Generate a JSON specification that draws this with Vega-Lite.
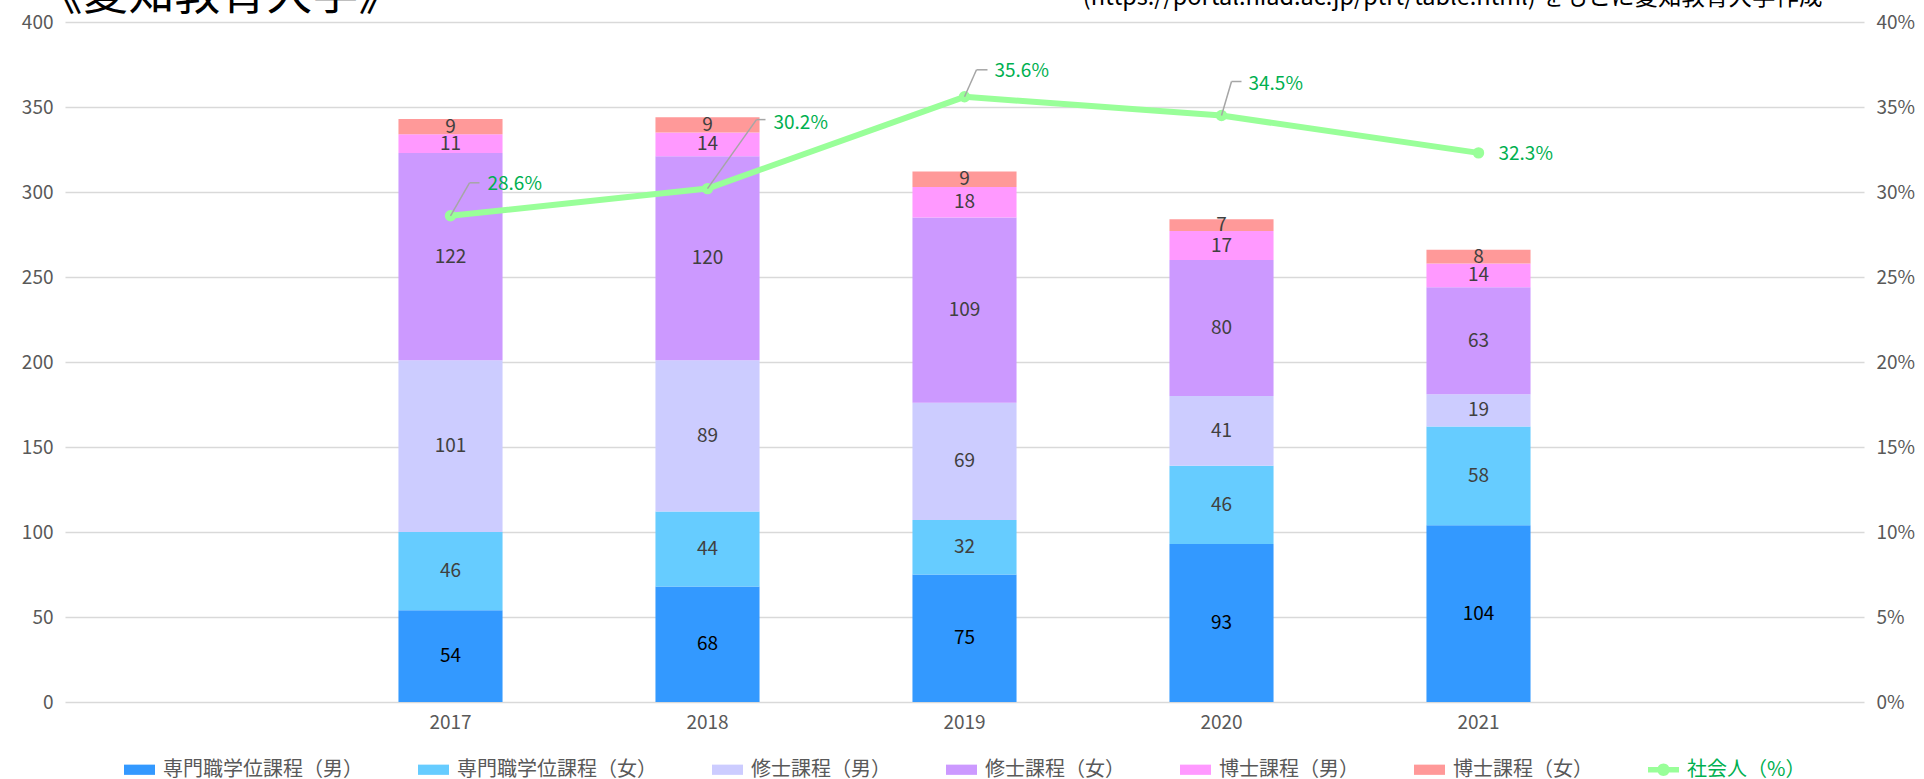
{
  "$schema": "https://vega.github.io/schema/vega-lite/v6.json",
  "autosize": {"type": "none"},
  "width": 1799,
  "height": 680,
  "padding": {"left": 65, "top": 22, "right": 60, "bottom": 77},
  "background": "#ffffff",
  "datasets": {
    "bars": [
      {"year": "2017", "series": "専門職学位課程（男）", "k": 1, "n": 54},
      {"year": "2017", "series": "専門職学位課程（女）", "k": 2, "n": 46},
      {"year": "2017", "series": "修士課程（男）", "k": 3, "n": 101},
      {"year": "2017", "series": "修士課程（女）", "k": 4, "n": 122},
      {"year": "2017", "series": "博士課程（男）", "k": 5, "n": 11},
      {"year": "2017", "series": "博士課程（女）", "k": 6, "n": 9},
      {"year": "2018", "series": "専門職学位課程（男）", "k": 1, "n": 68},
      {"year": "2018", "series": "専門職学位課程（女）", "k": 2, "n": 44},
      {"year": "2018", "series": "修士課程（男）", "k": 3, "n": 89},
      {"year": "2018", "series": "修士課程（女）", "k": 4, "n": 120},
      {"year": "2018", "series": "博士課程（男）", "k": 5, "n": 14},
      {"year": "2018", "series": "博士課程（女）", "k": 6, "n": 9},
      {"year": "2019", "series": "専門職学位課程（男）", "k": 1, "n": 75},
      {"year": "2019", "series": "専門職学位課程（女）", "k": 2, "n": 32},
      {"year": "2019", "series": "修士課程（男）", "k": 3, "n": 69},
      {"year": "2019", "series": "修士課程（女）", "k": 4, "n": 109},
      {"year": "2019", "series": "博士課程（男）", "k": 5, "n": 18},
      {"year": "2019", "series": "博士課程（女）", "k": 6, "n": 9},
      {"year": "2020", "series": "専門職学位課程（男）", "k": 1, "n": 93},
      {"year": "2020", "series": "専門職学位課程（女）", "k": 2, "n": 46},
      {"year": "2020", "series": "修士課程（男）", "k": 3, "n": 41},
      {"year": "2020", "series": "修士課程（女）", "k": 4, "n": 80},
      {"year": "2020", "series": "博士課程（男）", "k": 5, "n": 17},
      {"year": "2020", "series": "博士課程（女）", "k": 6, "n": 7},
      {"year": "2021", "series": "専門職学位課程（男）", "k": 1, "n": 104},
      {"year": "2021", "series": "専門職学位課程（女）", "k": 2, "n": 58},
      {"year": "2021", "series": "修士課程（男）", "k": 3, "n": 19},
      {"year": "2021", "series": "修士課程（女）", "k": 4, "n": 63},
      {"year": "2021", "series": "博士課程（男）", "k": 5, "n": 14},
      {"year": "2021", "series": "博士課程（女）", "k": 6, "n": 8}
    ],
    "rate": [
      {"year": "2017", "pct": 0.286},
      {"year": "2018", "pct": 0.302},
      {"year": "2019", "pct": 0.356},
      {"year": "2020", "pct": 0.345},
      {"year": "2021", "pct": 0.323}
    ]
  },
  "layer": [
    {
      "data": {"name": "bars"},
      "encoding": {
        "x": {"field": "year", "type": "nominal", "title": null,
          "scale": {"domain": ["L", "2017", "2018", "2019", "2020", "2021", "R"], "paddingInner": 0.595, "paddingOuter": 0.2975},
          "axis": {"labelExpr": "datum.value == 'L' || datum.value == 'R' ? '' : datum.value", "labelAngle": 0, "labelPadding": 11}}
      },
      "layer": [
        {
          "mark": {"type": "bar"},
          "encoding": {
            "y": {"field": "n", "type": "quantitative", "stack": "zero",
              "scale": {"domain": [0, 400], "nice": false},
              "axis": {"values": [0, 50, 100, 150, 200, 250, 300, 350, 400], "grid": true, "gridColor": "#D9D9D9", "gridWidth": 1.3, "labelPadding": 12,
                "title": "《愛知教育大学》", "titleAngle": 0, "titleAlign": "left", "titleBaseline": "alphabetic", "titleX": -29, "titleY": -14,
                "titleFontSize": 46, "titleFontWeight": "normal", "titleColor": "#000000", "titleFont": "Noto Sans CJK JP"}},
            "color": {"field": "series", "type": "nominal", "title": null,
              "scale": {
                "domain": ["専門職学位課程（男）", "専門職学位課程（女）", "修士課程（男）", "修士課程（女）", "博士課程（男）", "博士課程（女）", "社会人（%）"],
                "range": ["#3399FF", "#66CCFF", "#CCCCFF", "#CC99FF", "#FF99FF", "#FF9999", "#99FF99"]
              },
              "legend": {
                "encode": {
                  "symbols": {"update": {
                    "shape": {"signal": "datum.value === '社会人（%）' ? 'M-1,-0.17H1V0.17H-1Z M-0.4,0A0.4,0.4 0 1,1 0.4,0A0.4,0.4 0 1,1 -0.4,0Z' : 'M-1,-0.33H1V0.33H-1Z'"},
                    "fill": {"scale": "color", "field": "value"},
                    "stroke": {"value": "transparent"},
                    "strokeWidth": {"value": 0},
                    "opacity": {"value": 1}
                  }},
                  "labels": {"update": {"fill": {"signal": "datum.value === '社会人（%）' ? '#00B050' : '#595959'"}}}
                }
              }
            },
            "order": {"field": "k", "type": "quantitative"}
          }
        },
        {
          "transform": [
            {"stack": "n", "groupby": ["year"], "sort": [{"field": "k", "order": "ascending"}], "as": ["v0", "v1"]},
            {"fold": ["v0", "v1"], "as": ["edge", "pos"]},
            {"aggregate": [{"op": "mean", "field": "pos", "as": "mid"}], "groupby": ["year", "series", "n"]}
          ],
          "mark": {"type": "text", "fontSize": 19, "baseline": "middle", "align": "center"},
          "encoding": {
            "y": {"field": "mid", "type": "quantitative"},
            "text": {"field": "n", "type": "quantitative"},
            "color": {"condition": {"test": "datum.series === '専門職学位課程（男）'", "value": "#000000"}, "value": "#404040"}
          }
        }
      ]
    },
    {
      "data": {"name": "rate"},
      "encoding": {
        "x": {"field": "year", "type": "nominal", "title": null, "bandPosition": 0.5,
          "axis": {"labelExpr": "datum.value == 'L' || datum.value == 'R' ? '' : datum.value", "labelAngle": 0, "labelPadding": 11}},
        "y": {"field": "pct", "type": "quantitative",
          "scale": {"domain": [0, 0.4], "nice": false},
          "axis": {"orient": "right", "values": [0, 0.05, 0.1, 0.15, 0.2, 0.25, 0.3, 0.35, 0.4], "format": ".0%", "grid": false, "labelPadding": 12,
            "title": "(https://portal.niad.ac.jp/ptrt/table.html) をもとに愛知教育大学作成",
            "titleAngle": 0, "titleAlign": "right", "titleBaseline": "alphabetic", "titleX": -42, "titleY": -18,
            "titleFontSize": 23.5, "titleFontWeight": "normal", "titleColor": "#000000", "titleFont": "Noto Sans CJK JP"}}
      },
      "layer": [
        {
          "mark": {"type": "line", "strokeWidth": 6, "strokeCap": "round", "strokeJoin": "round"},
          "encoding": {"color": {"datum": "社会人（%）", "title": null}}
        },
        {
          "mark": {"type": "point", "filled": true, "size": 130, "color": "#99FF99", "opacity": 1}
        },
        {
          "transform": [{"filter": "datum.year == '2017'"}],
          "mark": {"type": "rule", "color": "#A6A6A6", "strokeWidth": 1.5, "x2Offset": 19, "y2Offset": -33},
          "encoding": {"x2": {"field": "year", "bandPosition": 0.5}, "y2": {"field": "pct"}}
        },
        {
          "transform": [{"filter": "datum.year == '2017'"}],
          "mark": {"type": "rule", "color": "#A6A6A6", "strokeWidth": 1.5, "xOffset": 19, "x2Offset": 29, "yOffset": -33, "y2Offset": -33},
          "encoding": {"x2": {"field": "year", "bandPosition": 0.5}, "y2": {"field": "pct"}}
        },
        {
          "transform": [{"filter": "datum.year == '2018'"}],
          "mark": {"type": "rule", "color": "#A6A6A6", "strokeWidth": 1.5, "x2Offset": 49, "y2Offset": -69},
          "encoding": {"x2": {"field": "year", "bandPosition": 0.5}, "y2": {"field": "pct"}}
        },
        {
          "transform": [{"filter": "datum.year == '2018'"}],
          "mark": {"type": "rule", "color": "#A6A6A6", "strokeWidth": 1.5, "xOffset": 49, "x2Offset": 58, "yOffset": -69, "y2Offset": -69},
          "encoding": {"x2": {"field": "year", "bandPosition": 0.5}, "y2": {"field": "pct"}}
        },
        {
          "transform": [{"filter": "datum.year == '2019'"}],
          "mark": {"type": "rule", "color": "#A6A6A6", "strokeWidth": 1.5, "x2Offset": 12, "y2Offset": -27},
          "encoding": {"x2": {"field": "year", "bandPosition": 0.5}, "y2": {"field": "pct"}}
        },
        {
          "transform": [{"filter": "datum.year == '2019'"}],
          "mark": {"type": "rule", "color": "#A6A6A6", "strokeWidth": 1.5, "xOffset": 12, "x2Offset": 23, "yOffset": -27, "y2Offset": -27},
          "encoding": {"x2": {"field": "year", "bandPosition": 0.5}, "y2": {"field": "pct"}}
        },
        {
          "transform": [{"filter": "datum.year == '2020'"}],
          "mark": {"type": "rule", "color": "#A6A6A6", "strokeWidth": 1.5, "x2Offset": 10, "y2Offset": -34},
          "encoding": {"x2": {"field": "year", "bandPosition": 0.5}, "y2": {"field": "pct"}}
        },
        {
          "transform": [{"filter": "datum.year == '2020'"}],
          "mark": {"type": "rule", "color": "#A6A6A6", "strokeWidth": 1.5, "xOffset": 10, "x2Offset": 20, "yOffset": -34, "y2Offset": -34},
          "encoding": {"x2": {"field": "year", "bandPosition": 0.5}, "y2": {"field": "pct"}}
        },
        {
          "transform": [{"filter": "datum.year == '2017'"}],
          "mark": {"type": "text", "align": "left", "baseline": "middle", "dx": 37, "dy": -32, "fontSize": 19, "color": "#00B050"},
          "encoding": {"text": {"field": "pct", "type": "quantitative", "format": ".1%"}}
        },
        {
          "transform": [{"filter": "datum.year == '2018'"}],
          "mark": {"type": "text", "align": "left", "baseline": "middle", "dx": 66, "dy": -66, "fontSize": 19, "color": "#00B050"},
          "encoding": {"text": {"field": "pct", "type": "quantitative", "format": ".1%"}}
        },
        {
          "transform": [{"filter": "datum.year == '2019'"}],
          "mark": {"type": "text", "align": "left", "baseline": "middle", "dx": 30, "dy": -26, "fontSize": 19, "color": "#00B050"},
          "encoding": {"text": {"field": "pct", "type": "quantitative", "format": ".1%"}}
        },
        {
          "transform": [{"filter": "datum.year == '2020'"}],
          "mark": {"type": "text", "align": "left", "baseline": "middle", "dx": 27, "dy": -32, "fontSize": 19, "color": "#00B050"},
          "encoding": {"text": {"field": "pct", "type": "quantitative", "format": ".1%"}}
        },
        {
          "transform": [{"filter": "datum.year == '2021'"}],
          "mark": {"type": "text", "align": "left", "baseline": "middle", "dx": 20, "dy": 1, "fontSize": 19, "color": "#00B050"},
          "encoding": {"text": {"field": "pct", "type": "quantitative", "format": ".1%"}}
        }
      ]
    }
  ],
  "resolve": {"scale": {"y": "independent"}},
  "config": {
    "font": "Noto Sans CJK JP",
    "view": {"stroke": null},
    "text": {"font": "Noto Sans CJK JP"},
    "axis": {"labelFont": "Noto Sans CJK JP", "labelFontSize": 19, "labelColor": "#595959", "ticks": false, "domain": false, "grid": false},
    "legend": {
      "orient": "bottom", "direction": "horizontal",
      "labelFont": "Noto Sans CJK JP", "labelFontSize": 20, "labelColor": "#595959", "labelLimit": 0,
      "columnPadding": 55, "labelOffset": 8, "symbolSize": 961, "symbolStrokeWidth": 0,
      "offset": 22,
      "layout": {"bottom": {"anchor": "middle"}}
    }
  }
}
